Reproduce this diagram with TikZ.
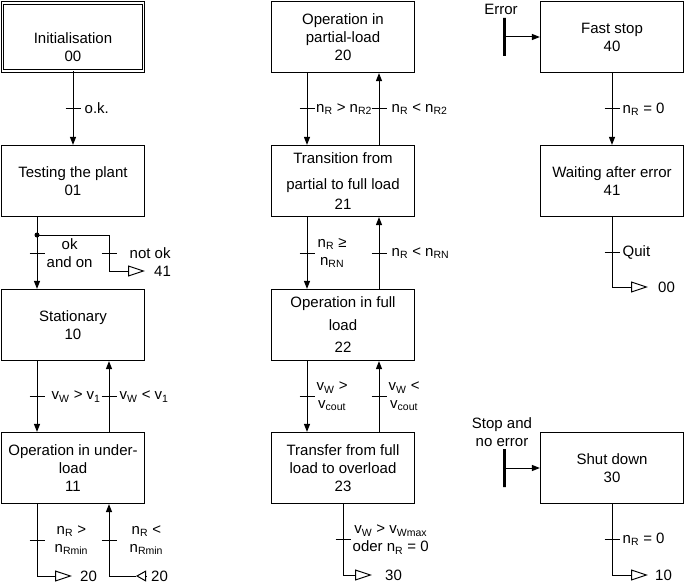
\documentclass[tikz,border=0pt]{standalone}
\usepackage{fontspec}
\setmainfont{Liberation Sans}
\usetikzlibrary{arrows.meta,positioning}

\newcommand{\sbs}[1]{\textsubscript{#1}}

\tikzset{
  state/.style={draw, line width=1.2pt, minimum width=143pt, minimum height=71pt, align=center, inner sep=2pt},
  flow/.style={line width=1pt, -{Triangle[length=8pt,width=6pt]}},
  goto/.style={line width=1pt, -{Triangle[open,length=17pt,width=11pt]}},
  back/.style={line width=1pt, -{Triangle[open,length=10pt,width=11pt]}},
  tick/.style={minimum width=15pt, minimum height=0pt, inner sep=0pt, outer sep=0pt},
  trig/.style={draw, line width=3pt, minimum width=0pt, minimum height=38pt, inner sep=0pt},
  cond/.style={align=center, inner sep=0pt},
}

\begin{document}
\begin{tikzpicture}[x=1pt,y=-1pt,font=\fontsize{15}{18}\selectfont]
\useasboundingbox (0,0) rectangle (685,583);

% States
\node[state, line width=1pt, double, double distance=1.5pt, minimum width=141pt, minimum height=68pt] (s00) at (73,37) {\rule{0pt}{31pt}Initialisation\\00};
\foreach \n/\x/\y/\txt in {
  s01/73/181/{Testing the plant\\01},
  s10/73/325/{Stationary\\10},
  s11/73/468/{Operation in under-\\load\\11},
  s20/343/37/{Operation in\\partial-load\\20},
  s21/343/181/{Transition from\\[8pt]partial to full load\\[2pt]21},
  s22/343/325/{Operation in full\\[5pt]load\\[4pt]22},
  s23/343/468/{Transfer from full\\load to overload\\23},
  s40/612/37/{Fast stop\\40},
  s41/612/181/{Waiting after error\\41},
  s30/612/468/{Shut down\\30}}
  \node[state] (\n) at (\x,\y) {\txt};

% Column 1
\draw[flow] (s00) -- node[tick] (k1) {} (s01);
\node[cond, right=4pt of k1] {o.k.};

\draw[flow] ([xshift=-36pt]s01.south) -- node[tick] (k2) {} ([xshift=-36pt]s10.north);
\node[cond, right=2pt of k2] {ok\\and on};
\coordinate (j1) at (37,235);
\coordinate (b41) at (109,235);
\coordinate (e41) at (145,271);
\fill (j1) circle (2.5pt);
\draw[goto] (j1) -- (b41) |- node[tick, pos=0.25] (k3) {} (e41);
\node[cond, right=13pt of k3] {not ok};
\node[cond, right=9pt of e41] {41};

\draw[flow] ([xshift=-36pt]s10.south) -- node[tick] (k4) {} ([xshift=-36pt]s11.north);
\draw[flow] ([xshift=36pt]s11.north) -- node[tick] (k5) {} ([xshift=36pt]s10.south);
\node[cond, right=7pt of k4] {v\sbs{W} > v\sbs{1}};
\node[cond, right=3pt of k5] {v\sbs{W} < v\sbs{1}};

\coordinate (e20) at (72,576);
\draw[goto] ([xshift=-36pt]s11.south) |- node[tick, pos=0.25] (k6) {} (e20);
\node[cond, right=10pt of k6] {n\sbs{R} >\\n\sbs{Rmin}};
\node[cond, right=8pt of e20] {20};
\coordinate (r20) at (136,576);
\coordinate (r20b) at (146,576);
\draw[flow] (r20) -| node[tick, pos=0.75] (k7) {} ([xshift=36pt]s11.south);
\draw[back] (r20b) -- (r20);
\node[cond, right=5pt of r20b] {20};
\node[cond, right=13pt of k7] {n\sbs{R} <\\n\sbs{Rmin}};

% Column 2
\draw[flow] ([xshift=-36pt]s20.south) -- node[tick] (k8) {} ([xshift=-36pt]s21.north);
\draw[flow] ([xshift=36pt]s21.north) -- node[tick] (k9) {} ([xshift=36pt]s20.south);
\node[cond, right=1.5pt of k8] {n\sbs{R} > n\sbs{R2}};
\node[cond, right=5pt of k9] {n\sbs{R} < n\sbs{R2}};

\draw[flow] ([xshift=-36pt]s21.south) -- node[tick] (k10) {} ([xshift=-36pt]s22.north);
\draw[flow] ([xshift=36pt]s22.north) -- node[tick] (k11) {} ([xshift=36pt]s21.south);
\node[cond, right=3pt of k10] {n\sbs{R} ≥\\n\sbs{RN}};
\node[cond, right=5pt of k11] {n\sbs{R} < n\sbs{RN}};

\draw[flow] ([xshift=-36pt]s22.south) -- node[tick] (k12) {} ([xshift=-36pt]s23.north);
\draw[flow] ([xshift=36pt]s23.north) -- node[tick] (k13) {} ([xshift=36pt]s22.south);
\node[cond, right=2pt of k12] {v\sbs{W} >\\v\sbs{cout}};
\node[cond, right=2pt of k13] {v\sbs{W} <\\v\sbs{cout}};

\coordinate (e30) at (372,575);
\draw[goto] (s23.south) |- node[tick, pos=0.25] (k14) {} (e30);
\node[cond, right=2pt of k14] {v\sbs{W} > v\sbs{Wmax}\\oder n\sbs{R} = 0};
\node[cond, right=13pt of e30] {30};

% Column 3
\node[trig] (err) at (504,37) {};
\node[cond, above=2pt of err, xshift=-3pt] {Error};
\draw[flow] (err) -- (s40);

\draw[flow] (s40) -- node[tick] (k15) {} (s41);
\node[cond, right=3pt of k15] {n\sbs{R} = 0};

\coordinate (e00) at (648,287);
\draw[goto] (s41.south) |- node[tick, pos=0.25] (k16) {} (e00);
\node[cond, right=3pt of k16] {Quit};
\node[cond, right=10pt of e00] {00};

\node[trig] (stp) at (504,468) {};
\node[cond, above=1pt of stp, xshift=-2pt] {Stop and\\no error};
\draw[flow] (stp) -- (s30);

\coordinate (e10) at (648,575);
\draw[goto] (s30.south) |- node[tick, pos=0.25] (k17) {} (e10);
\node[cond, right=3pt of k17] {n\sbs{R} = 0};
\node[cond, right=7pt of e10] {10};

% Transition bars
\foreach \k in {1,...,17}
  \draw[line width=1pt] (k\k.west) -- (k\k.east);

\end{tikzpicture}
\end{document}
